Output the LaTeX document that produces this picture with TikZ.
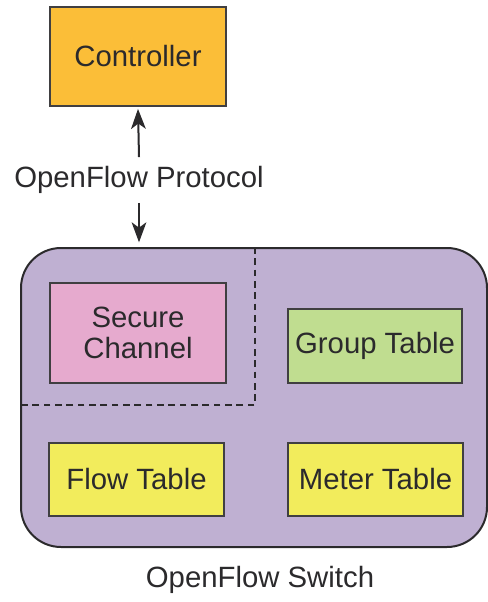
\documentclass[tikz,border=0pt]{standalone}
\usepackage{fontspec}
\setmainfont{Liberation Sans}
\usepackage{tikz}
\usetikzlibrary{arrows.meta}
\definecolor{ctrlorange}{HTML}{FBBE38}
\definecolor{securepink}{HTML}{E6AACE}
\definecolor{groupgreen}{HTML}{C0DD90}
\definecolor{tableyellow}{HTML}{F2EC5C}
\definecolor{switchlilac}{HTML}{BFB0D2}
\definecolor{inkgray}{HTML}{2B2A2C}
\tikzset{
every picture/.style={x=0.75pt, y=-0.75pt,
                       font=\fontsize{22}{23.5}\selectfont, text=inkgray},
%%%%%%%%%%  Node styles
box/.style={draw=inkgray!90, line width=1.3pt, inner sep=2pt, align=center},
switchbox/.style={draw=inkgray, line width=1.5pt, rounded corners=30pt,
                  fill=switchlilac, minimum width=349.5pt,
                  minimum height=224.25pt},
%%%% line styles:
link/.style={draw=inkgray, line width=1.5pt,
             -{Stealth[length=15pt,width=11pt,inset=4pt]}},
partition/.style={draw=inkgray, line width=1.2pt, dash pattern=on 5pt off 3.5pt}
}

\begin{document}
\begin{tikzpicture}
\useasboundingbox (0,0) rectangle (488,602);
\node[switchbox] (switch) at (254,397.5) {};
\node (switchlabel) at (260,580) {OpenFlow Switch};
%%%%%%% secure channel area
\coordinate (corner) at (255,405);
\draw[partition] (corner |- switch.north) -- (corner) -- (corner -| switch.west);
\node[box, fill=ctrlorange, minimum width=132pt, minimum height=74.25pt]
     (ctrl) at (138,56.5) {Controller};
\node[box, fill=securepink, minimum width=132pt, minimum height=75pt]
     (secure) at (138,333) {Secure\\Channel};
\node[box, fill=groupgreen, minimum width=130.5pt, minimum height=55.5pt]
     (group) at (375,346) {Group Table};
\node[box, fill=tableyellow, minimum width=131.25pt, minimum height=54.75pt]
     (flow) at (136.5,479.5) {Flow Table};
\node[box, fill=tableyellow, minimum width=131.25pt, minimum height=54.75pt]
     (meter) at (375.5,479.5) {Meter Table};
%%%%%%% protocol arrows
\node[inner sep=0pt, minimum height=34pt] (proto) at (139,180) {OpenFlow Protocol};
\draw[link] (proto.north) -- ([yshift=-1.5pt]ctrl.south);
\draw[link] (proto.south) -- ([yshift=3.5pt]proto |- switch.north);
\end{tikzpicture}
\end{document}
